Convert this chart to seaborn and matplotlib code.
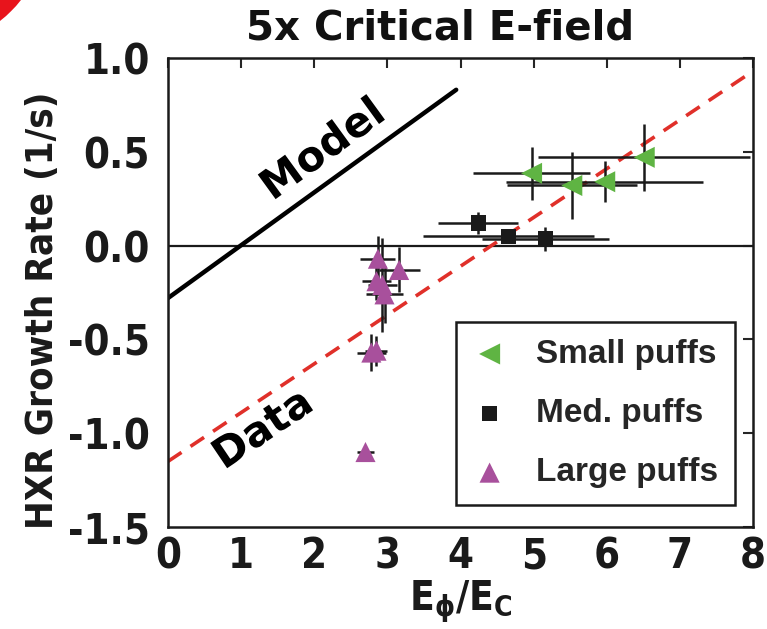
import numpy as np
import pandas as pd
import matplotlib
matplotlib.use("Agg")
import matplotlib.pyplot as plt
import matplotlib.patheffects as pe
from matplotlib.patches import Circle
from matplotlib.transforms import IdentityTransform
from matplotlib import font_manager as fm
import seaborn as sns

# ---- data -------------------------------------------------------------
small_x = [4.97, 5.52, 5.97, 6.51]
small_y = [0.385, 0.32, 0.34, 0.47]
small_xerr = [0.80, 0.89, 1.35, 1.45]
small_yerr = [0.14, 0.18, 0.11, 0.18]

med_x = [4.24, 4.65, 5.16]
med_y = [0.12, 0.05, 0.035]
med_xerr = [0.55, 1.17, 0.87]
med_yerr = [0.06, 0.03, 0.065]

large_x = [2.87, 2.85, 2.93, 3.16, 2.96, 2.78, 2.85, 2.70]
large_y = [-0.07, -0.19, -0.21, -0.13, -0.26, -0.57, -0.56, -1.10]
large_xerr = [0.24, 0.20, 0.20, 0.28, 0.25, 0.20, 0.15, 0.12]
large_yerr = [0.12, 0.10, 0.25, 0.12, 0.15, 0.10, 0.08, 0.0]

model_x = [0.0, 3.94]
model_y = [-0.28, 0.83]
fit_x = [0.0, 8.0]
fit_y = [-1.15, 0.93]

x_ticks = [0, 1, 2, 3, 4, 5, 6, 7, 8]
y_ticks = [-1.5, -1.0, -0.5, 0.0, 0.5, 1.0]
y_tick_labels = ["-1.5", "-1.0", "-0.5", "0.0", "0.5", "1.0"]

groups = ["Small puffs", "Med. puffs", "Large puffs"]
colors = {"Small puffs": "#5fb443", "Med. puffs": "#1a1a1a", "Large puffs": "#a8509c"}
markers = {"Small puffs": "<", "Med. puffs": "s", "Large puffs": "^"}

df = pd.concat([
    pd.DataFrame({"x": small_x, "y": small_y, "xerr": small_xerr, "yerr": small_yerr, "group": "Small puffs"}),
    pd.DataFrame({"x": med_x, "y": med_y, "xerr": med_xerr, "yerr": med_yerr, "group": "Med. puffs"}),
    pd.DataFrame({"x": large_x, "y": large_y, "xerr": large_xerr, "yerr": large_yerr, "group": "Large puffs"}),
], ignore_index=True)

# ---- style ------------------------------------------------------------
sns.set_style("white")
plt.rcParams["font.family"] = ["DejaVu Sans"]
plt.rcParams["axes.unicode_minus"] = False

# condensed bold face for axis numbers and labels
cond = fm.FontProperties(family="DejaVu Sans", weight="bold", stretch="condensed")
cond_file = fm.findfont(cond)
cond_name = fm.FontProperties(fname=cond_file).get_name()

plt.rcParams["mathtext.fontset"] = "custom"
plt.rcParams["mathtext.bf"] = f"{cond_name}:weight=bold:stretch=condensed"
plt.rcParams["mathtext.rm"] = f"{cond_name}:weight=bold:stretch=condensed"
plt.rcParams["mathtext.it"] = f"{cond_name}:weight=bold:stretch=condensed"

fig = plt.figure(figsize=(7.67, 6.29), dpi=100)
ax = fig.add_axes([0.219, 0.162, 0.763, 0.746])

# reference zero line
ax.axhline(0, color="#1a1a1a", lw=1.6, zorder=1)

# fitted trend of the data and model prediction
sns.lineplot(x=fit_x, y=fit_y, ax=ax, color="#e0302a", lw=2.6,
             linestyle=(0, (4.5, 3)), zorder=2)
sns.lineplot(x=model_x, y=model_y, ax=ax, color="black", lw=3.2, zorder=2)

# error bars
ax.errorbar(df["x"], df["y"], xerr=df["xerr"], yerr=df["yerr"], fmt="none",
            ecolor="#1a1a1a", elinewidth=1.8, capsize=0, zorder=3)

sizes = {"Small puffs": 230, "Med. puffs": 120, "Large puffs": 210}
for g in groups:
    sub = df[df["group"] == g]
    sns.scatterplot(data=sub, x="x", y="y", ax=ax, color=colors[g],
                    marker=markers[g], s=sizes[g], edgecolor="none",
                    linewidth=0, label=g, zorder=4)

ax.set_xlim(0, 8)
ax.set_ylim(-1.5, 1.0)
ax.set_xticks(x_ticks)
ax.set_yticks(y_ticks)
ax.set_yticklabels(y_tick_labels)
ax.tick_params(direction="in", length=7, width=1.5, top=True, right=True,
               labelcolor="#1a1a1a")
ax.tick_params(axis="x", pad=6)
ax.tick_params(axis="y", pad=13)
for lab in ax.get_xticklabels() + ax.get_yticklabels():
    lab.set_fontproperties(cond)
    lab.set_fontsize(30)
for sp in ax.spines.values():
    sp.set_linewidth(1.8)
    sp.set_color("#1a1a1a")

ax.set_xlabel(r"$\mathbf{E_{\phi}/E_{C}}$", fontsize=29, color="#1a1a1a")
ax.xaxis.set_label_coords(0.5, -0.11)
ax.set_ylabel("HXR Growth Rate (1/s)", fontproperties=cond, fontsize=27.5,
              color="#1a1a1a")
ax.yaxis.set_label_coords(-0.182, 0.463)

fig.text(0.574, 0.955, "5x Critical E-field", fontsize=29, fontweight="bold",
         ha="center", va="center", color="#111111")

halo = [pe.withStroke(linewidth=5, foreground="white")]
ax.text(2.12, 0.51, "Model", rotation=36, fontsize=30, fontweight="bold",
        ha="center", va="center", color="black", path_effects=halo, zorder=5)
ax.text(1.30, -0.98, "Data", rotation=34, fontsize=30, fontweight="bold",
        ha="center", va="center", color="black", path_effects=halo, zorder=5)

leg = ax.legend(loc="lower right", bbox_to_anchor=(0.969, 0.047), frameon=True,
                fancybox=False, edgecolor="#1a1a1a", framealpha=1,
                prop={"family": "Liberation Sans", "weight": "bold", "size": 24},
                handlelength=1.0, handletextpad=0.9, labelspacing=0.85,
                borderpad=0.5, borderaxespad=0, markerscale=1.0)
leg.get_frame().set_linewidth(1.8)

# red corner ornament
fig.patches.append(Circle((-90, 629 + 90), 143, transform=IdentityTransform(),
                          facecolor="#e8141c", edgecolor="none", figure=fig))

fig.savefig("out.png", dpi=100)
